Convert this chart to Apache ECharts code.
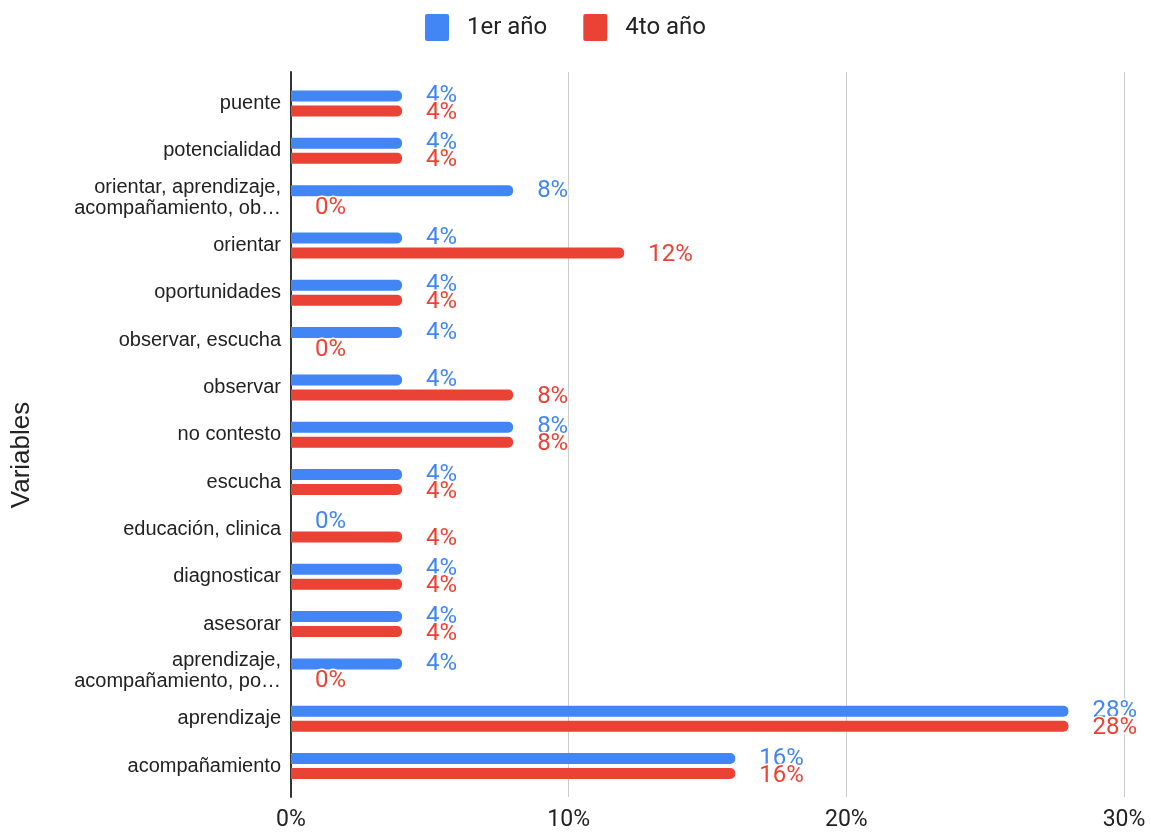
<!DOCTYPE html>
<html>
<head>
<meta charset="utf-8">
<script src="https://cdn.jsdelivr.net/npm/echarts@6/dist/echarts.min.js"></script>
<style>html,body{margin:0;padding:0;background:#fff}#c{width:1151px;height:834px}</style>
</head>
<body>
<div id="c"></div>
<script>
const categories = [
  'puente',
  'potencialidad',
  'orientar, aprendizaje,\nacompañamiento, ob…',
  'orientar',
  'oportunidades',
  'observar, escucha',
  'observar',
  'no contesto',
  'escucha',
  'educación, clinica',
  'diagnosticar',
  'asesorar',
  'aprendizaje,\nacompañamiento, po…',
  'aprendizaje',
  'acompañamiento'
];
const primerAno = [4, 4, 8, 4, 4, 4, 4, 8, 4, 0, 4, 4, 4, 28, 16];
const cuartoAno = [4, 4, 0, 12, 4, 0, 8, 8, 4, 4, 4, 4, 0, 28, 16];
const xTicks = { min: 0, max: 30, interval: 10 };

const chart = echarts.init(document.getElementById('c'));
const labelBase = {
  show: true,
  position: 'right',
  distance: 24,
  formatter: '{c}%',
  fontFamily: 'Roboto',
  fontSize: 24,
  textBorderColor: '#fff',
  textBorderWidth: 3
};
chart.setOption({
  animation: false,
  backgroundColor: '#fff',
  legend: {
    left: 425, top: 14, padding: 0,
    itemWidth: 24, itemHeight: 27, itemGap: 36,
    icon: 'path://M2,0 L22,0 Q24,0 24,2 L24,25 Q24,27 22,27 L2,27 Q0,27 0,25 L0,2 Q0,0 2,0 Z',
    textStyle: { fontFamily: 'Roboto', fontSize: 24, color: '#222', padding: [0, 0, 0, 13] },
    data: ['1er año', '4to año']
  },
  graphic: [{
    type: 'text', x: 22, y: 455, rotation: Math.PI / 2,
    style: { text: 'Variables', fontFamily: 'Liberation Sans', fontSize: 26, fill: '#222', align: 'center', verticalAlign: 'middle' }
  }],
  grid: [
    { left: 291, right: 27, top: 72, bottom: 37 },
    { left: 291, right: 27, top: 79.8, bottom: 44.3 }
  ],
  xAxis: [
    { type: 'value', gridIndex: 0, min: xTicks.min, max: xTicks.max, interval: xTicks.interval,
      axisLine: { show: false }, axisTick: { show: false },
      splitLine: { lineStyle: { color: '#cccccc', width: 1 } },
      axisLabel: { formatter: '{value}%', fontFamily: 'Roboto', fontSize: 23, color: '#222', margin: 12 } },
    { type: 'value', gridIndex: 1, min: xTicks.min, max: xTicks.max, show: false }
  ],
  yAxis: [
    { type: 'value', gridIndex: 0, min: 0, max: 1,
      axisLine: { show: true, lineStyle: { color: '#333', width: 2 } },
      axisTick: { show: false }, axisLabel: { show: false }, splitLine: { show: false } },
    { type: 'category', gridIndex: 1, inverse: true, data: categories,
      axisLine: { show: false }, axisTick: { show: false },
      axisLabel: { fontFamily: 'Liberation Sans', fontSize: 20, color: '#222', margin: 10, lineHeight: 21 } }
  ],
  series: [
    { name: '1er año', type: 'bar', xAxisIndex: 1, yAxisIndex: 1, data: primerAno,
      barWidth: 11, barGap: '36%',
      itemStyle: { color: '#4285F4', borderRadius: [0, 5, 5, 0] },
      label: Object.assign({}, labelBase, { color: '#4285F4', offset: [0, 0] }) },
    { name: '4to año', type: 'bar', xAxisIndex: 1, yAxisIndex: 1, data: cuartoAno,
      barWidth: 11, barGap: '36%',
      itemStyle: { color: '#EA4335', borderRadius: [0, 5, 5, 0] },
      label: Object.assign({}, labelBase, { color: '#EA4335', offset: [0, 2] }) }
  ]
});
</script>
</body>
</html>
